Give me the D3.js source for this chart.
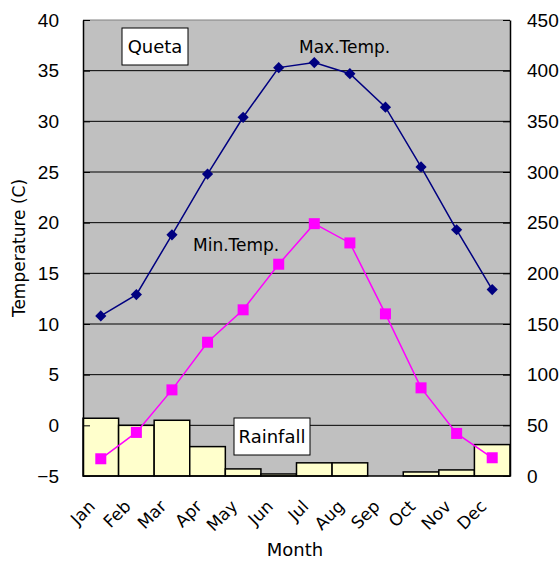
<!DOCTYPE html>
<html>
<head>
<meta charset="utf-8">
<script src="https://cdn.jsdelivr.net/npm/d3@7"></script>
<style>
  body { margin: 0; background: #fff; }
  text { font-family: "DejaVu Sans", sans-serif; }
  .tick text { font-family: "Liberation Sans", Arial, sans-serif; }
</style>
</head>
<body>
<div id="chart"></div>
<script>
let months = ['Jan', 'Feb', 'Mar', 'Apr', 'May', 'Jun', 'Jul', 'Aug', 'Sep', 'Oct', 'Nov', 'Dec'];
let maxTemp = [10.8, 12.9, 18.8, 24.8, 30.4, 35.3, 35.8, 34.7, 31.4, 25.5, 19.3, 13.4];
let minTemp = [-3.3, -0.7, 3.5, 8.2, 11.4, 15.9, 19.9, 18.0, 11.0, 3.7, -0.8, -3.2];
let rainfall = [57, 50, 55, 29, 7, 2, 13, 13, 0, 4, 6, 31];
let tempTicks = [-5, 0, 5, 10, 15, 20, 25, 30, 35, 40];
let rainTicks = [0, 50, 100, 150, 200, 250, 300, 350, 400, 450];

let W = 560, H = 563;
let margin = { top: 20, right: 50, bottom: 87, left: 83 };
let width = W - margin.left - margin.right;
let height = H - margin.top - margin.bottom;

let svg = d3.select('#chart').append('svg')
    .attr('width', W)
    .attr('height', H);
let g = svg.append('g').attr('transform', `translate(${margin.left},${margin.top})`);

let x = d3.scaleBand().domain(months).range([0, width]).padding(0);
let yT = d3.scaleLinear().domain([-5, 40]).range([height, 0]);
let yR = d3.scaleLinear().domain([0, 450]).range([height, 0]);

// plot background
g.append('rect')
    .attr('width', width).attr('height', height)
    .attr('fill', '#c0c0c0');

// gridlines
g.append('g').selectAll('line')
    .data(tempTicks.filter(d => d > -5 && d < 40))
    .join('line')
    .attr('x1', 0).attr('x2', width)
    .attr('y1', d => yT(d)).attr('y2', d => yT(d))
    .attr('stroke', '#000').attr('stroke-width', 1);

// rainfall bars
g.append('g').selectAll('rect')
    .data(rainfall)
    .join('rect')
    .attr('x', (d, i) => x(months[i]))
    .attr('width', x.bandwidth())
    .attr('y', d => yR(d))
    .attr('height', d => height - yR(d))
    .attr('fill', '#ffffcc')
    .attr('stroke', '#000')
    .attr('stroke-width', 1.5);

// frame
g.append('line').attr('x1', 0).attr('x2', width).attr('y1', 0).attr('y2', 0)
    .attr('stroke', '#808080').attr('stroke-width', 1);
g.append('line').attr('x1', 0).attr('x2', width).attr('y1', height).attr('y2', height)
    .attr('stroke', '#000').attr('stroke-width', 1.5);

// axes
let leftAxis = d3.axisLeft(yT).tickValues(tempTicks).tickSizeInner(-7).tickSizeOuter(0)
    .tickFormat(d => d < 0 ? '\u2212' + Math.abs(d) : d).tickPadding(24);
let la = g.append('g').call(leftAxis);
la.select('.domain').attr('stroke', '#000').attr('stroke-width', 1.5);
la.selectAll('text').attr('font-size', 19).attr('fill', '#000');

let rightAxis = d3.axisRight(yR).tickValues(rainTicks).tickSizeInner(-7).tickSizeOuter(0).tickPadding(17);
let ra = g.append('g').attr('transform', `translate(${width},0)`).call(rightAxis);
ra.select('.domain').attr('stroke', '#000').attr('stroke-width', 1.5);
ra.selectAll('text').attr('font-size', 19).attr('fill', '#000');

// month labels
g.append('g').selectAll('text')
    .data(months)
    .join('text')
    .attr('transform', d => `translate(${x(d) + x.bandwidth() / 2 - 13},${height + 23}) rotate(-45)`)
    .attr('text-anchor', 'end')
    .attr('dy', '0.7em')
    .attr('font-size', 17)
    .text(d => d);

// lines
let line = d3.line().x((d, i) => x(months[i]) + x.bandwidth() / 2);

g.append('path')
    .attr('d', line.y(d => yT(d))(maxTemp))
    .attr('fill', 'none').attr('stroke', '#000080').attr('stroke-width', 1.5);
g.append('g').selectAll('path')
    .data(maxTemp)
    .join('path')
    .attr('d', d3.symbol(d3.symbolDiamond2, 80))
    .attr('transform', (d, i) => `translate(${x(months[i]) + x.bandwidth() / 2},${yT(d)})`)
    .attr('fill', '#000080');

g.append('path')
    .attr('d', line.y(d => yT(d))(minTemp))
    .attr('fill', 'none').attr('stroke', '#ff00ff').attr('stroke-width', 1.5);
g.append('g').selectAll('rect')
    .data(minTemp)
    .join('rect')
    .attr('x', (d, i) => x(months[i]) + x.bandwidth() / 2 - 5.5)
    .attr('y', d => yT(d) - 5.5)
    .attr('width', 11).attr('height', 11)
    .attr('fill', '#ff00ff');

// labels
function boxLabel(txt, bx, by, bw, bh) {
    svg.append('rect').attr('x', bx).attr('y', by).attr('width', bw).attr('height', bh)
        .attr('fill', '#fff').attr('stroke', '#000').attr('stroke-width', 1);
    svg.append('text').attr('x', bx + bw / 2).attr('y', by + bh / 2).attr('dy', '0.35em')
        .attr('text-anchor', 'middle').attr('font-size', 18).text(txt);
}
boxLabel('Queta', 122, 28, 66, 37);
boxLabel('Rainfall', 234, 418, 76, 37);

svg.append('text').attr('x', 299).attr('y', 53).attr('font-size', 17).text('Max.Temp.');
svg.append('text').attr('x', 193).attr('y', 251).attr('font-size', 17).text('Min.Temp.');

svg.append('text')
    .attr('transform', `translate(25,${margin.top + height / 2}) rotate(-90)`)
    .attr('text-anchor', 'middle').attr('font-size', 17).text('Temperature (C)');
svg.append('text').attr('x', 295).attr('y', 556).attr('text-anchor', 'middle')
    .attr('font-size', 18).text('Month');
</script>
</body>
</html>
